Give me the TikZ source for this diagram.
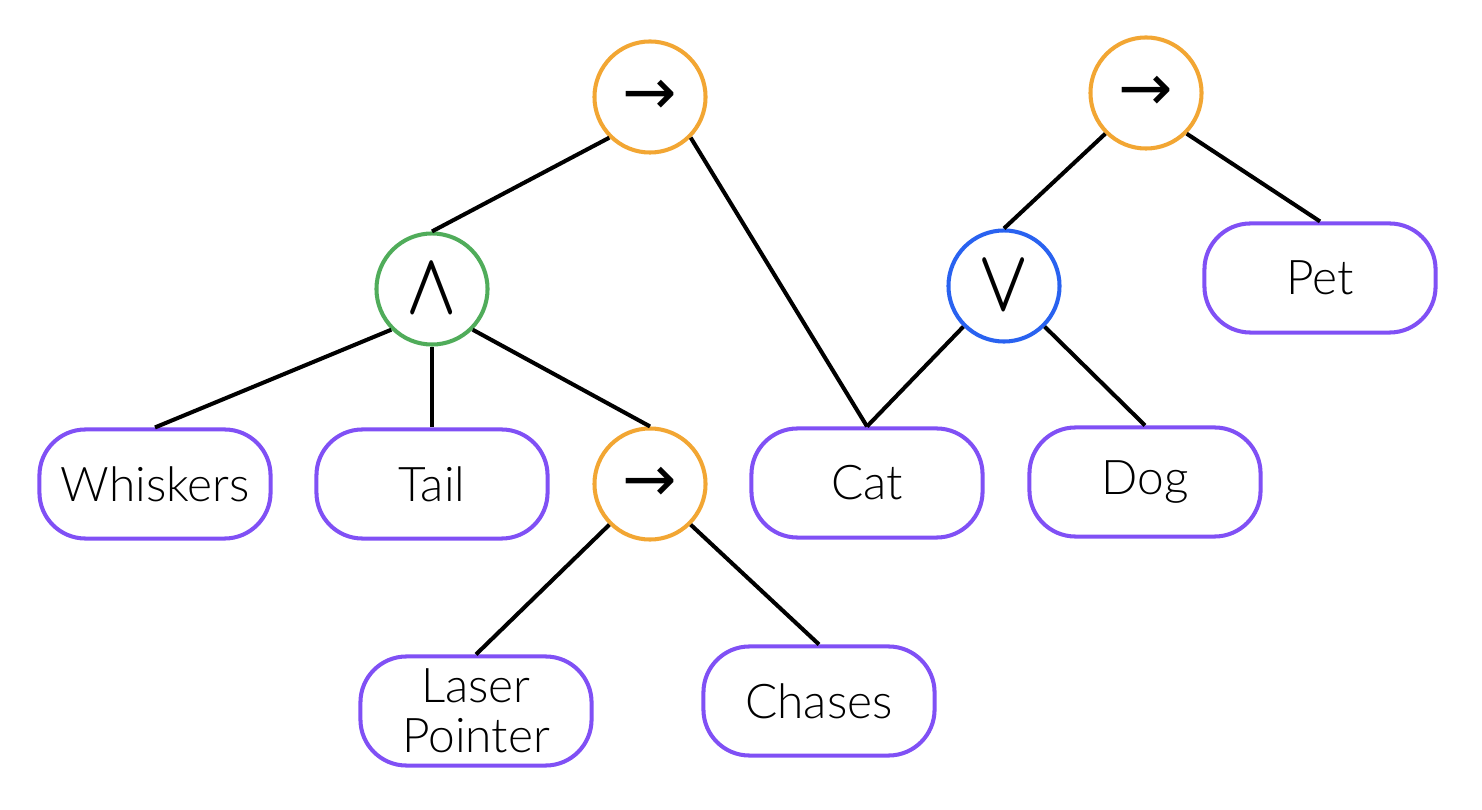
\documentclass[tikz,border=0pt]{standalone}
\usepackage{fontspec}
\setmainfont{Lato Light}
\newfontfamily\symfont{DejaVu Sans}
\definecolor{cOrange}{RGB}{242,166,51}
\definecolor{cGreen}{RGB}{80,172,90}
\definecolor{cBlue}{RGB}{41,98,240}
\definecolor{cPurple}{RGB}{128,80,245}
\newcommand{\opwedge}{\fontsize{24}{24}\selectfont\scalebox{0.75}[1]{\boldmath$\wedge$}}
\newcommand{\opvee}{\fontsize{24}{24}\selectfont\scalebox{0.75}[1]{\boldmath$\vee$}}
\begin{document}
\begin{tikzpicture}[x=0.01cm,y=-0.01cm,
  opnode/.style={circle,draw,line width=1.15pt,minimum size=1.11cm,inner sep=0pt,font=\symfont\fontsize{18.5}{18.5}\selectfont},
  leaf/.style={draw=cPurple,line width=1.15pt,rounded corners=0.46cm,minimum width=2.31cm,minimum height=1.09cm,inner sep=0pt,align=center,font=\fontsize{13.6}{14.2}\selectfont},
  edge/.style={line width=1.15pt,black}]
\useasboundingbox (0,0) rectangle (1482,810);
\node[opnode,draw=cOrange] (t1) at (650,97) {→};
\node[opnode,draw=cOrange] (t2) at (1146,93) {→};
\node[opnode,draw=cGreen] (and) at (432,289) {\opwedge};
\node[opnode,draw=cBlue] (or) at (1004,286) {\opvee};
\node[opnode,draw=cOrange] (t3) at (650,484) {→};
\node[leaf] (wh) at (155,484) {Whiskers};
\node[leaf] (tail) at (432,484) {Tail};
\node[leaf] (cat) at (867,483) {Cat};
\node[leaf] (dog) at (1145,482) {Dog};
\node[leaf] (pet) at (1320,278) {Pet};
\node[leaf] (laser) at (476,711) {Laser\\Pointer};
\node[leaf] (chases) at (819,701) {Chases};
\draw[edge] (t1.south west) -- (and.north);
\draw[edge] (t1.south east) -- (cat.north);
\draw[edge] (and.south west) -- (wh.north);
\draw[edge] (and.south) -- (tail.north);
\draw[edge] (and.south east) -- (t3.north);
\draw[edge] (t3.south west) -- (laser.north);
\draw[edge] (t3.south east) -- (chases.north);
\draw[edge] (t2.south west) -- (or.north);
\draw[edge] (t2.south east) -- (pet.north);
\draw[edge] (or.south west) -- (cat.north);
\draw[edge] (or.south east) -- (dog.north);
\end{tikzpicture}
\end{document}
